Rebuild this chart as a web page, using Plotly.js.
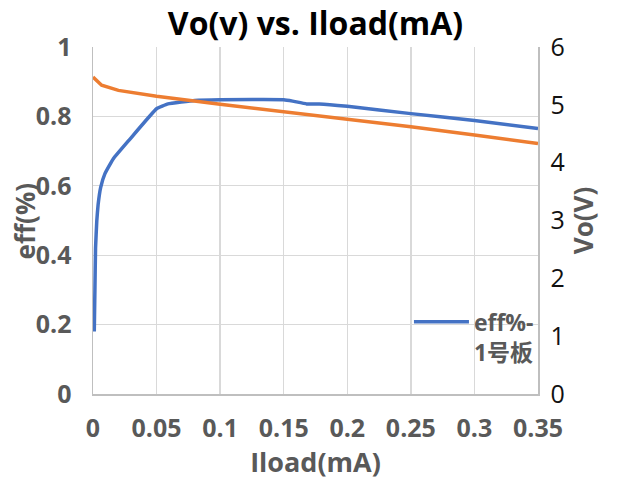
<!DOCTYPE html>
<html>
<head>
<meta charset="utf-8">
<script src="https://cdn.plot.ly/plotly-3.0.1.min.js"></script>
<style>
html,body{margin:0;padding:0;background:#fff;}
#chart{width:622px;height:484px;}
</style>
</head>
<body>
<div id="chart"></div>
<script>
// Efficiency (left axis)
const effX = [0.001, 0.0015, 0.002, 0.003, 0.004, 0.006, 0.0094, 0.016, 0.028, 0.05, 0.059, 0.08, 0.1, 0.15, 0.157, 0.168, 0.178, 0.2, 0.25, 0.3, 0.35];
const effY = [0.18, 0.30, 0.42, 0.50, 0.545, 0.595, 0.635, 0.678, 0.73, 0.822, 0.836, 0.846, 0.848, 0.848, 0.844, 0.836, 0.836, 0.829, 0.808, 0.788, 0.765];
// Output voltage (right axis)
const voX = [0, 0.0068, 0.02, 0.05, 0.1, 0.15, 0.2, 0.25, 0.3, 0.35];
const voY = [5.48, 5.34, 5.25, 5.15, 5.01, 4.88, 4.76, 4.62, 4.48, 4.33];

const effName = "eff%-<br>1号板";
const voName = "Vo";
const titleText = "Vo(v) vs. Iload(mA)";
const xTitle = "Iload(mA)";
const yTitle = "eff(%)";
const y2Title = "Vo(V)";

const FONT = "Open Sans, Noto Sans CJK SC, sans-serif";
const GRAY = "#595959";

const traces = [
  {x: voX, y: voY, yaxis: "y2", type: "scatter", mode: "lines", name: voName,
   line: {color: "#ED7D31", width: 3.5}, showlegend: false},
  {x: effX, y: effY, type: "scatter", mode: "lines", name: effName,
   line: {color: "#4472C4", width: 3.5, shape: "spline", smoothing: 0.3}}
];

const layout = {
  width: 622, height: 484,
  margin: {l: 93, r: 84, t: 47, b: 90},
  paper_bgcolor: "#fff", plot_bgcolor: "#fff",
  font: {family: FONT, color: GRAY},
  title: {text: titleText, x: 0.5, xref: "paper", y: 0.950, yref: "container", yanchor: "middle",
          font: {family: FONT, size: 32, weight: 700, color: "#000"}},
  xaxis: {range: [0, 0.35], dtick: 0.05, tick0: 0, showgrid: true, gridcolor: "#d9d9d9", gridwidth: 1.3,
          showline: true, linecolor: "#bfbfbf", linewidth: 1.5, zeroline: false, ticks: "",
          ticklabelstandoff: 11,
          tickfont: {family: FONT, size: 25, weight: 700, color: GRAY},
          title: {text: xTitle, font: {family: FONT, size: 27, weight: 700, color: GRAY}, standoff: 6}},
  yaxis: {range: [0, 1], dtick: 0.2, tick0: 0, showgrid: true, gridcolor: "#d9d9d9", gridwidth: 1.3,
          showline: true, linecolor: "#bfbfbf", linewidth: 1.5, zeroline: false, ticks: "",
          ticklabelstandoff: 15,
          tickfont: {family: FONT, size: 25, weight: 700, color: GRAY}},
  yaxis2: {range: [0, 6], dtick: 1, tick0: 0, overlaying: "y", side: "right", showgrid: false,
           showline: true, linecolor: "#bfbfbf", linewidth: 1.5, zeroline: false, ticks: "",
           ticklabelstandoff: 6,
           tickfont: {family: FONT, size: 25, color: "#111"},
           title: {text: y2Title, font: {family: FONT, size: 26, weight: 700, color: GRAY}, standoff: 5}},
  annotations: [
    {text: yTitle, xref: "paper", yref: "paper", x: -0.153, y: 0.5, xanchor: "center", yanchor: "middle",
     textangle: -90, showarrow: false, font: {family: FONT, size: 26, weight: 700, color: GRAY}}
  ],
  legend: {x: 0.71, y: 0.27, xanchor: "left", yanchor: "top", valign: "top", itemwidth: 55,
           bgcolor: "rgba(0,0,0,0)", font: {family: FONT, size: 23, weight: 700, color: GRAY}},
  showlegend: true
};

Plotly.newPlot("chart", traces, layout, {displayModeBar: false, staticPlot: true});
</script>
</body>
</html>
